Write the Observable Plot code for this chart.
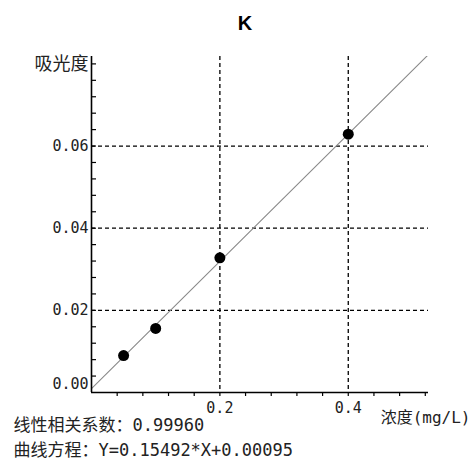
<!DOCTYPE html>
<html>
<head>
<meta charset="utf-8">
<script src="https://cdn.jsdelivr.net/npm/d3@7"></script>
<script src="https://cdn.jsdelivr.net/npm/@observablehq/plot@0.6"></script>
<style>
  html, body { margin: 0; padding: 0; background: #fff; }
  #chart svg { display: block; }
</style>
</head>
<body>
<div id="chart"></div>
<script>
// Data
const concentration = [0.05, 0.1, 0.2, 0.4];          // mg/L
const absorbance = [0.0090, 0.0156, 0.0328, 0.0629];
const slope = 0.15492;
const intercept = 0.00095;
const fitX = [0, 0.525];
const xGrid = [0.2, 0.4];
const yGrid = [0.02, 0.04, 0.06];
const xMinor = [0.04, 0.08, 0.12, 0.16, 0.2, 0.24, 0.28, 0.32, 0.36, 0.4, 0.44, 0.48, 0.52];
const yMinor = d3.range(1, 21).map(i => +(i * 0.004).toFixed(3));
const xTickLabels = [0.2, 0.4];
const yTickLabels = [0.02, 0.04, 0.06];
const titleText = "K";
const xLabel = "浓度(mg/L)";
const yLabel = "吸光度";
const caption1 = "线性相关系数：0.99960";
const caption2 = "曲线方程：Y=0.15492*X+0.00095";

const points = concentration.map((c, i) => ({x: c, y: absorbance[i]}));
const fit = fitX.map(x => ({x, y: slope * x + intercept}));

const mono = "'DejaVu Sans Mono', 'Noto Sans CJK SC', monospace";
const cjk = "'Noto Sans CJK SC', 'DejaVu Sans Mono', sans-serif";

// short horizontal tick pointing right (inside the frame)
const tickRight = {draw(ctx) { ctx.moveTo(0, 0); ctx.lineTo(4.5, 0); }};

const chart = Plot.plot({
  width: 472,
  height: 466,
  marginLeft: 91,
  marginRight: 44,
  marginTop: 56,
  marginBottom: 74,
  x: {domain: [0, 0.525], axis: null},
  y: {domain: [0, 0.0818], axis: null},
  style: {background: "#fff", color: "#000", overflow: "visible"},
  marks: [
    Plot.gridX(xGrid, {stroke: "#000", strokeOpacity: 1, strokeWidth: 1.3, strokeDasharray: "4,3"}),
    Plot.gridY(yGrid, {stroke: "#000", strokeOpacity: 1, strokeWidth: 1.3, strokeDasharray: "4,3"}),
    Plot.line(fit, {x: "x", y: "y", stroke: "#8a8a8a", strokeWidth: 1.1, clip: true}),
    Plot.dot(points, {x: "x", y: "y", r: 5.5, fill: "#000", stroke: "none"}),
    Plot.ruleX([0], {stroke: "#000", strokeWidth: 1.6}),
    Plot.ruleY([0], {stroke: "#000", strokeWidth: 1.6}),
    Plot.axisX({ticks: xMinor, tickSize: 4, tickFormat: () => "", label: null, stroke: "#000", strokeWidth: 1.2, strokeOpacity: 1}),
    Plot.dot(yMinor, {x: () => 0, y: d => d, symbol: tickRight, r: 4, fill: "none", stroke: "#000", strokeWidth: 1.2}),
    // tick labels
    Plot.text(yTickLabels, {x: () => 0, y: d => d, text: d => d.toFixed(2), textAnchor: "end", dx: -3, fontSize: 15, fontFamily: mono, fill: "#222"}),
    Plot.text([0], {x: () => 0, y: d => d, text: d => d.toFixed(2), textAnchor: "end", dx: -3, dy: -8, fontSize: 15, fontFamily: mono, fill: "#222"}),
    Plot.text(xTickLabels, {x: d => d, y: () => 0, text: d => String(d), dy: 16, fontSize: 15, fontFamily: mono, fill: "#222"}),
    // axis labels
    Plot.text([yLabel], {x: () => 0, y: () => 0.08, text: d => d, textAnchor: "end", dx: -3, fontSize: 18, fontFamily: cjk, fill: "#222"}),
    Plot.text([xLabel], {frameAnchor: "bottom-right", text: d => d, textAnchor: "end", dx: 42, dy: 30, fontSize: 16, fontFamily: mono, fill: "#222"}),
    // title
    Plot.text([titleText], {frameAnchor: "top", text: d => d, dx: -15, dy: -41, fontSize: 20, fontWeight: "bold", fontFamily: "'Liberation Sans', Arial, sans-serif", fill: "#000"}),
    // captions
    Plot.text([caption1], {frameAnchor: "bottom-left", text: d => d, textAnchor: "start", dx: -78, dy: 38, fontSize: 17, fontFamily: mono, fill: "#222"}),
    Plot.text([caption2], {frameAnchor: "bottom-left", text: d => d, textAnchor: "start", dx: -78, dy: 63, fontSize: 17, fontFamily: mono, fill: "#222"})
  ]
});
document.getElementById("chart").appendChild(chart);
</script>
</body>
</html>
